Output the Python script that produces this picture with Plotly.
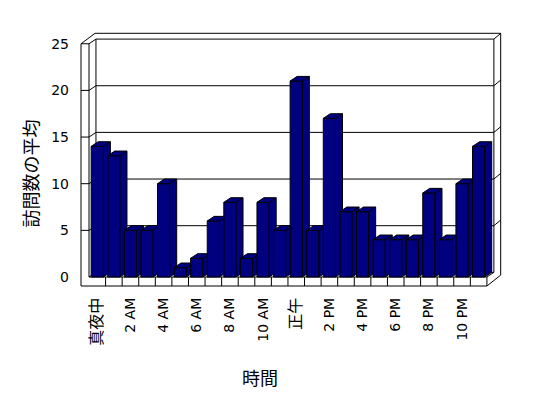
import plotly.graph_objects as go

# ---- data ----
hour_index = list(range(24))
visits = [14, 13, 5, 5, 10, 1, 2, 6, 8, 2, 8, 5, 21, 5, 17, 7, 7, 4, 4, 4, 9, 4, 10, 14]
tick_positions = [0, 2, 4, 6, 8, 10, 12, 14, 16, 18, 20, 22]
tick_labels = ["真夜中", "2 AM", "4 AM", "6 AM", "8 AM", "10 AM", "正午",
               "2 PM", "4 PM", "6 PM", "8 PM", "10 PM"]
y_ticks = [0, 5, 10, 15, 20, 25]
x_title = "時間"
y_title = "訪問数の平均"

# ---- geometry (data units) ----
N = len(visits)
BW = 0.74          # bar front width (categories)
DX = 0.42          # depth offset x (categories)
DY = 0.5           # depth offset y (value units)
K = DY / DX
YMAX = 25
XL = -0.9825       # left wall outer
YB = -0.965        # floor bottom
XR_OUT = 24.33     # right outer edge
YT = 26.12         # top outer edge
RS = 0.6           # right wall stroke rise
FRONT_L, FRONT_R = -0.5, N - 0.5

U, V = 16.58, 9.33         # px per category / per unit
X0PX, Y0PX = 89, 277       # page px of x=-0.5 and y=0
L, R, T, B = 76, 506, 30, 290   # plot area in page px
OFF = 8                    # page body margin
FW, FH = 532, 382

xr = [(L - X0PX) / U - 0.5, (R - X0PX) / U - 0.5]
yr = [(Y0PX - B) / V, (Y0PX - T) / V]

shapes = []
def seg(x0, y0, x1, y1):
    shapes.append(dict(type="line", xref="x", yref="y", x0=x0, y0=y0, x1=x1, y1=y1,
                       line=dict(color="black", width=1), layer="below"))

# back wall & gridlines
for v in y_ticks:
    if v > 0:
        seg(XL, v, FRONT_L, v)
    seg(FRONT_L, v, FRONT_L + DX, v + DY)
    seg(FRONT_L + DX, v + DY, FRONT_R + DX, v + DY)
    if v > 0:
        seg(FRONT_R + DX, v + DY, XR_OUT, v + DY + RS)
seg(FRONT_L + DX, DY, FRONT_L + DX, YMAX + DY)
seg(FRONT_R + DX, DY, FRONT_R + DX, YMAX + DY)
# outer frame
seg(XL, YMAX, -0.138, YT)
seg(-0.138, YT, XR_OUT, YT)
seg(XR_OUT, YT, XR_OUT, 0.2)
seg(XL, YMAX, XL, YB)
seg(FRONT_L, YMAX, FRONT_L, 0)
# floor
seg(FRONT_L, 0, FRONT_R, 0)
seg(XL, YB, FRONT_R, YB)
seg(FRONT_R, 0, FRONT_R, YB)
seg(FRONT_R, YB, XR_OUT, 0.2)
seg(FRONT_R, 0, FRONT_R + DX, DY)
for k in range(1, N):
    seg(FRONT_L + k, 0, FRONT_L + k, YB)

# bar caps (top + side), clipped against the next bar
cap_x, cap_y, edge_x, edge_y = [], [], [], []
for i, v in enumerate(visits):
    xL, xR = hour_index[i] - BW / 2, hour_index[i] + BW / 2
    pts = None
    ex_end = (xR + DX, v + DY)
    if i + 1 < N:
        vn = visits[i + 1]
        xLn = hour_index[i + 1] - BW / 2
        gap = xLn - xR
        c = vn - gap * K
        if c > 0:
            xs = xR + (v + DY - c) / K
            x_end = min(xR + DX, max(xLn, xs))
            pts = [(xL, v), (xL + DX, v + DY), (x_end, v + DY)]
            if x_end >= xR + DX - 1e-9:
                pts.append((xR + DX, DY + c))
            pts.append((xLn, min(vn, v + DY)))
            pts.append((xLn, gap * K))
            pts += [(xR, 0), (xR, v)]
            if v < c:
                ex_end = (xLn, v + gap * K)
    if pts is None:
        pts = [(xL, v), (xL + DX, v + DY), (xR + DX, v + DY), (xR + DX, DY), (xR, 0), (xR, v)]
    for px_, py_ in pts + [pts[0]]:
        cap_x.append(px_); cap_y.append(py_)
    cap_x.append(None); cap_y.append(None)
    edge_x += [xR, ex_end[0], None]
    edge_y += [v, ex_end[1], None]

def fmt_tick(t):
    # CJK labels are drawn a bit larger, like the full-width glyphs of the original
    if any(ord(ch) > 0x3000 for ch in t):
        return '<span style="font-size:16px">' + t + '</span>'
    return t

fig = go.Figure()
fig.add_trace(go.Bar(x=hour_index, y=visits, width=BW,
                     marker=dict(color="#000080", line=dict(color="black", width=1)),
                     hoverinfo="skip"))
fig.add_trace(go.Scatter(x=cap_x, y=cap_y, mode="lines", fill="toself",
                         fillcolor="#000080", line=dict(color="black", width=1),
                         hoverinfo="skip"))
fig.add_trace(go.Scatter(x=edge_x, y=edge_y, mode="lines",
                         line=dict(color="black", width=1), hoverinfo="skip"))

tick_font = "DejaVu Sans, Noto Sans CJK JP"
title_font = "Noto Sans CJK JP"
fig.update_layout(
    width=FW, height=FH, showlegend=False,
    paper_bgcolor="white", plot_bgcolor="white",
    margin=dict(l=L - OFF, r=FW - (R - OFF), t=T - OFF, b=FH - (B - OFF), pad=0),
    font=dict(family=tick_font, size=14, color="black"),
    shapes=shapes,
    xaxis=dict(range=xr, showgrid=False, zeroline=False, showline=False,
               tickmode="array", tickvals=tick_positions,
               ticktext=[fmt_tick(t) for t in tick_labels],
               tickangle=-90, ticks="", ticklabelstandoff=4,
               tickfont=dict(family=tick_font, size=14, color="black")),
    yaxis=dict(range=yr, showgrid=False, zeroline=False, showline=False,
               tickmode="array", tickvals=y_ticks, ticks="", ticklabelstandoff=6,
               tickfont=dict(family=tick_font, size=14, color="black")),
    annotations=[
        dict(text=x_title, xref="paper", yref="paper",
             x=(260 - L) / (R - L), y=(B - 377) / (B - T),
             xanchor="center", yanchor="middle",
             showarrow=False, font=dict(family=title_font, size=18, color="black")),
        dict(text=y_title, xref="paper", yref="paper",
             x=(29 - L) / (R - L), y=(B - 173.5) / (B - T), textangle=-90,
             xanchor="center", yanchor="middle",
             showarrow=False, font=dict(family=title_font, size=18, color="black")),
    ],
)
fig.write_html("out.html")
